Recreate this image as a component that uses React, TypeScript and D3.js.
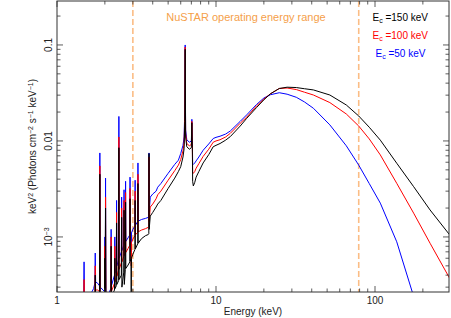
import React from "react";
import * as d3 from "d3";

// shared energy grid (keV); line spikes are listed as narrow triplets
const energy = [
  1.4,
  1.47, 1.48, 1.49,
  1.6, 1.7,
  1.73, 1.74, 1.75,
  1.8, 1.85, 1.86, 1.87,
  1.95, 1.99, 2.0, 2.01, 2.02, 2.03,
  2.1, 2.18, 2.19, 2.2,
  2.3, 2.31, 2.32,
  2.36, 2.37, 2.38,
  2.44, 2.45, 2.46,
  2.54, 2.55, 2.56,
  2.63, 2.64, 2.65,
  2.69, 2.7, 2.71,
  2.8, 2.87, 2.88, 2.89,
  2.92, 2.93, 2.94, 3.0,
  3.09, 3.1, 3.11,
  3.22, 3.23, 3.24,
  3.4, 3.6, 3.75,
  3.78, 3.79, 3.8, 3.86,
  4.0, 4.2, 4.3, 4.5, 5.0, 5.5, 5.8, 6.0, 6.2, 6.3,
  6.36, 6.4, 6.44, 6.55,
  6.8, 7.0, 7.05, 7.1, 7.13,
  7.2, 7.35, 7.5, 7.8, 8.3, 9.0, 9.6, 10.0, 10.6,
  11.5, 12.3, 14.2, 15.6, 18, 20, 22, 25,
  28, 32, 36, 41, 52, 66, 79, 92, 108, 137, 175, 222, 295,
];

// Ec = 50 keV
const fluxBlue = [
  2.0e-4,
  2.2e-4, 5.5e-4, 2.2e-4,
  2.4e-4, 2.9e-4,
  3.3e-4, 6.8e-4, 3.4e-4,
  3.3e-4, 3.1e-4, 7.5e-3, 3.0e-4,
  2.8e-4, 2.7e-4, 1.0e-3, 2.7e-4, 4.1e-3, 2.6e-4,
  2.5e-4, 2.9e-4, 1.2e-3, 3.1e-4,
  4.0e-4, 1.0e-3, 4.2e-4,
  4.8e-4, 2.4e-3, 5.0e-4,
  5.8e-4, 1.8e-2, 6.0e-4,
  7.0e-4, 2.6e-3, 7.2e-4,
  8.2e-4, 3.1e-3, 8.4e-4,
  8.8e-4, 3.8e-3, 9.0e-4,
  9.8e-4, 1.05e-3, 4.2e-3, 1.06e-3,
  1.08e-3, 7.0e-4, 1.1e-3, 1.2e-3,
  1.3e-3, 3.9e-3, 1.32e-3,
  1.45e-3, 5.9e-3, 1.46e-3,
  1.52e-3, 1.56e-3, 1.6e-3,
  1.62e-3, 7.5e-3, 1.8e-3, 2.6e-3,
  2.8e-3, 3.0e-3, 3.3e-3, 3.6e-3, 4.6e-3, 5.7e-3, 6.3e-3, 7.4e-3, 9.0e-3, 1.1e-2,
  2.0e-2, 1.0e-1, 1.3e-2, 1.03e-2,
  9.7e-3, 1.0e-2, 1.68e-2, 1.0e-2, 5.8e-3,
  5.7e-3, 5.9e-3, 6.2e-3, 6.8e-3, 8.0e-3, 9.3e-3, 1.06e-2, 1.09e-2, 1.12e-2,
  1.18e-2, 1.27e-2, 1.6e-2, 1.87e-2, 2.4e-2, 2.8e-2, 3.03e-2, 3.18e-2,
  3.07e-2, 2.85e-2, 2.55e-2, 2.19e-2, 1.47e-2, 8.9e-3, 5.6e-3, 3.6e-3, 2.25e-3, 8.9e-4, 2.4e-4, 5e-5, 5e-6,
];

// Ec = 100 keV
const fluxRed = [
  1.8e-4,
  1.9e-4, 3.6e-4, 1.9e-4,
  2.1e-4, 2.4e-4,
  2.7e-4, 5.0e-4, 2.8e-4,
  2.8e-4, 2.7e-4, 5.5e-3, 2.7e-4,
  2.5e-4, 2.5e-4, 8.0e-4, 2.5e-4, 2.6e-3, 2.4e-4,
  2.4e-4, 2.6e-4, 1.0e-3, 2.7e-4,
  3.3e-4, 8.0e-4, 3.4e-4,
  3.8e-4, 1.8e-3, 3.9e-4,
  4.5e-4, 1.1e-2, 4.6e-4,
  5.4e-4, 2.0e-3, 5.5e-4,
  6.3e-4, 2.4e-3, 6.4e-4,
  6.8e-4, 2.9e-3, 6.9e-4,
  7.6e-4, 8.2e-4, 3.2e-3, 8.3e-4,
  8.5e-4, 5.0e-4, 8.7e-4, 9.5e-4,
  1.03e-3, 3.0e-3, 1.05e-3,
  1.12e-3, 4.5e-3, 1.13e-3,
  1.18e-3, 1.22e-3, 1.26e-3,
  1.28e-3, 6.8e-3, 1.45e-3, 2.05e-3,
  2.2e-3, 2.5e-3, 2.75e-3, 3.0e-3, 3.9e-3, 4.9e-3, 5.6e-3, 6.4e-3, 7.9e-3, 9.5e-3,
  1.8e-2, 9.5e-2, 1.2e-2, 9.4e-3,
  8.9e-3, 9.2e-3, 1.6e-2, 9.2e-3, 4.7e-3,
  4.6e-3, 4.8e-3, 5.2e-3, 5.8e-3, 6.9e-3, 8.2e-3, 9.7e-3, 1.0e-2, 1.03e-2,
  1.1e-2, 1.2e-2, 1.53e-2, 1.77e-2, 2.32e-2, 2.73e-2, 3.1e-2, 3.52e-2,
  3.56e-2, 3.43e-2, 3.22e-2, 3.01e-2, 2.51e-2, 1.91e-2, 1.43e-2, 1.05e-2, 7.15e-3, 3.62e-3, 1.77e-3, 8.6e-4, 3.7e-4,
];

// Ec = 150 keV
const fluxBlack = [
  1.6e-4,
  1.7e-4, 2.4e-4, 1.7e-4,
  1.8e-4, 2.0e-4,
  2.2e-4, 4.0e-4, 2.3e-4,
  2.4e-4, 2.3e-4, 4.5e-3, 2.3e-4,
  2.2e-4, 2.2e-4, 6.0e-4, 2.2e-4, 2.0e-3, 2.2e-4,
  2.2e-4, 2.3e-4, 8.0e-4, 2.4e-4,
  2.8e-4, 6.0e-4, 2.9e-4,
  3.1e-4, 1.4e-3, 3.2e-4,
  3.5e-4, 8.5e-3, 3.6e-4,
  4.0e-4, 1.6e-3, 3.0e-4,
  4.3e-4, 1.9e-3, 3.2e-4,
  4.6e-4, 2.3e-3, 4.7e-4,
  5.1e-4, 5.5e-4, 2.5e-3, 5.6e-4,
  5.8e-4, 2.4e-4, 6.0e-4, 6.6e-4,
  7.4e-4, 2.4e-3, 7.5e-4,
  8.5e-4, 3.6e-3, 8.6e-4,
  9.6e-4, 1.03e-3, 1.06e-3,
  1.08e-3, 7.4e-3, 1.2e-3, 1.65e-3,
  1.8e-3, 2.05e-3, 2.2e-3, 2.4e-3, 3.2e-3, 4.1e-3, 4.8e-3, 5.4e-3, 6.8e-3, 8.3e-3,
  1.6e-2, 9.0e-2, 1.1e-2, 8.7e-3,
  8.2e-3, 8.5e-3, 1.55e-2, 8.5e-3, 3.8e-3,
  3.4e-3, 3.7e-3, 4.2e-3, 4.8e-3, 5.9e-3, 7.2e-3, 8.7e-3, 9.0e-3, 9.4e-3,
  1.02e-2, 1.11e-2, 1.43e-2, 1.72e-2, 2.23e-2, 2.68e-2, 3.1e-2, 3.52e-2,
  3.63e-2, 3.6e-2, 3.5e-2, 3.4e-2, 3.01e-2, 2.37e-2, 1.82e-2, 1.39e-2, 1.02e-2, 5.86e-3, 3.34e-3, 1.91e-3, 1.05e-3,
];

const seriesColors = ["#0000ff", "#ff0000", "#000000"];
const seriesFlux = [fluxBlue, fluxRed, fluxBlack];

const legendCutoffs = ["150", "100", "50"];
const legendColors = ["#000000", "#ff0000", "#0000ff"];

const xMajor = [1, 10, 100];
const xMinor = [2, 3, 4, 5, 6, 7, 8, 9, 20, 30, 40, 50, 60, 70, 80, 90, 200];
const yMajor = [0.001, 0.01, 0.1];
const yMinor = [
  3e-4, 4e-4, 5e-4, 6e-4, 7e-4, 8e-4, 9e-4,
  2e-3, 3e-3, 4e-3, 5e-3, 6e-3, 7e-3, 8e-3, 9e-3,
  0.02, 0.03, 0.04, 0.05, 0.06, 0.07, 0.08, 0.09, 0.2,
];
const nustarBand = [3, 79];

const W = 451;
const H = 318;
const L = 57, R = 449, T = 1, B = 292;
const font = "'Liberation Sans', Arial, Helvetica, sans-serif";

export default function App() {
  const x = d3.scaleLog().domain([1, 292]).range([L, R]);
  const y = d3.scaleLog().domain([2.67e-4, 0.287]).range([B, T]);

  const line = d3
    .line<number>()
    .x((d, i) => x(energy[i]))
    .y((d) => y(d));

  const major = 6, minor = 3.5;
  const axisColor = "#333";

  return (
    <svg
      width={W}
      height={H}
      style={{ position: "absolute", left: 0, top: 0, background: "#fff" }}
      fontFamily={font}
    >
      <defs>
        <clipPath id="plot">
          <rect x={L} y={T} width={R - L} height={B - T} />
        </clipPath>
      </defs>

      {/* NuSTAR band */}
      {nustarBand.map((e) => (
        <line
          key={e}
          x1={x(e)}
          x2={x(e)}
          y1={T}
          y2={B}
          stroke="#fbbd85"
          strokeWidth={1.6}
          strokeDasharray="6,3"
        />
      ))}

      <g clipPath="url(#plot)">
        {seriesFlux.map((f, i) => (
          <path
            key={i}
            d={line(f) || ""}
            fill="none"
            stroke={seriesColors[i]}
            strokeWidth={1}
            strokeLinejoin="round"
          />
        ))}
      </g>

      {/* frame */}
      <rect x={L} y={T} width={R - L} height={B - T} fill="none" stroke={axisColor} strokeWidth={1} />

      {/* x ticks, bottom and top */}
      {xMajor.concat(xMinor).map((v) => {
        const len = xMajor.includes(v) ? major : minor;
        const px = x(v);
        return (
          <g key={"x" + v} stroke={axisColor} strokeWidth={0.8}>
            <line x1={px} x2={px} y1={B} y2={B - len} />
            <line x1={px} x2={px} y1={T} y2={T + len} />
          </g>
        );
      })}
      {/* y ticks, left and right */}
      {yMajor.concat(yMinor).map((v) => {
        const len = yMajor.includes(v) ? major : minor;
        const py = y(v);
        return (
          <g key={"y" + v} stroke={axisColor} strokeWidth={0.8}>
            <line x1={L} x2={L + len} y1={py} y2={py} />
            <line x1={R} x2={R - len} y1={py} y2={py} />
          </g>
        );
      })}

      {/* x tick labels */}
      {xMajor.map((v) => (
        <text key={"xl" + v} x={x(v)} y={303.5} fontSize={10} textAnchor="middle" fill="#222">
          {v}
        </text>
      ))}
      <text x={(L + R) / 2} y={315} fontSize={10} textAnchor="middle" fill="#222">
        Energy (keV)
      </text>

      {/* y tick labels */}
      {yMajor.map((v) => (
        <text
          key={"yl" + v}
          transform={`translate(52, ${y(v)}) rotate(-90)`}
          fontSize={10}
          textAnchor="middle"
          fill="#222"
        >
          {v === 0.001 ? (
            <>
              10<tspan fontSize={7} dy={-3.5}>−3</tspan>
            </>
          ) : (
            String(v)
          )}
        </text>
      ))}
      <text
        transform={`translate(36, ${(T + B) / 2}) rotate(-90)`}
        fontSize={10}
        textAnchor="middle"
        fill="#222"
      >
        keV<tspan fontSize={7} dy={-3.5}>2</tspan>
        <tspan dy={3.5}> (Photons cm</tspan>
        <tspan fontSize={7} dy={-3.5}>−2</tspan>
        <tspan dy={3.5}> s</tspan>
        <tspan fontSize={7} dy={-3.5}>−1</tspan>
        <tspan dy={3.5}> keV</tspan>
        <tspan fontSize={7} dy={-3.5}>−1</tspan>
        <tspan dy={3.5}>)</tspan>
      </text>

      {/* annotation */}
      <text x={246} y={20.5} fontSize={11} textAnchor="middle" fill="#f5a04a">
        NuSTAR operating energy range
      </text>

      {/* legend */}
      {legendCutoffs.map((c, i) => (
        <text
          key={c}
          x={i === 2 ? 375.5 : 372.5}
          y={21 + i * 18}
          fontSize={10}
          fill={legendColors[i]}
        >
          E<tspan fontSize={7} dy={2}>c</tspan>
          <tspan dy={-2}> ={c} keV</tspan>
        </text>
      ))}
    </svg>
  );
}
